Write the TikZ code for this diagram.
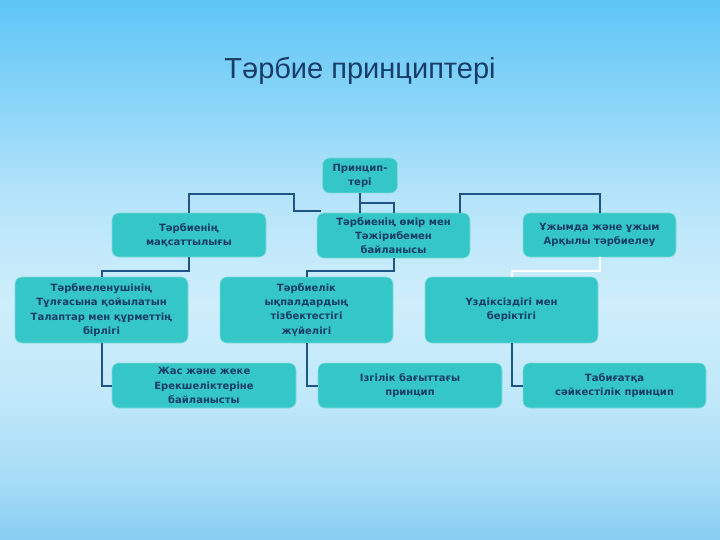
\documentclass[tikz,border=0pt]{standalone}
\usepackage{fontspec}
\setmainfont{DejaVu Sans}
\newfontfamily\titlefont{Liberation Sans}
\newfontfamily\boxfont{DejaVu Sans}
\usetikzlibrary{calc}
\definecolor{bgA}{HTML}{5EC5F5}
\definecolor{bgB}{HTML}{8AD5F8}
\definecolor{bgC}{HTML}{B6E4FA}
\definecolor{bgD}{HTML}{CFEEFB}
\definecolor{bgE}{HTML}{C0E8FA}
\definecolor{bgF}{HTML}{A6DCF6}
\definecolor{bgG}{HTML}{88CEF2}
\pgfdeclareverticalshading{slidebg}{100bp}{color(0bp)=(bgG); color(25bp)=(bgG); color(30.5bp)=(bgF); color(38bp)=(bgE); color(47bp)=(bgD); color(56.5bp)=(bgC); color(65.5bp)=(bgB); color(75bp)=(bgA); color(100bp)=(bgA)}
\definecolor{boxfill}{HTML}{35C6C8}
\definecolor{boxline}{HTML}{80DCDC}
\definecolor{txt}{HTML}{173D66}
\definecolor{conn}{HTML}{1E5585}
\tikzset{
  pbox/.style={draw=boxline, line width=0.6pt, fill=boxfill, rounded corners=7pt,
    align=center, text=txt, inner sep=1pt,
    font=\boxfont\bfseries\fontsize{10}{14.2}\selectfont},
  lnk/.style={draw=conn, line width=2pt},
  wlnk/.style={draw=white, line width=2pt},
}
\begin{document}
\begin{tikzpicture}[x=1pt,y=-1pt]
\useasboundingbox (0,0) rectangle (720,540);
\begin{scope}[y=1pt]
\shade[shading=slidebg] (0,-540) rectangle (720,0);
\end{scope}

\node[anchor=base, text=txt, font=\titlefont\fontsize{29}{32}\selectfont] (title) at (360,79) {Тәрбие принциптері};

\node[pbox, minimum width=75pt, minimum height=35pt] (root) at (360,175.5) {Принцип-\\тері};

\node[pbox, minimum width=154pt, minimum height=44pt] (L2a) at (189,235) {Тәрбиенің\\мақсаттылығы};
\node[pbox, minimum width=153pt, minimum height=45pt] (L2b) at (393.5,235.5) {Тәрбиенің өмір мен\\Тәжірибемен\\байланысы};
\node[pbox, minimum width=153pt, minimum height=44pt] (L2c) at (599.5,235) {Ұжымда және ұжым\\Арқылы тәрбиелеу};

\node[pbox, minimum width=173pt, minimum height=66pt] (L3a) at (101.5,310) {Тәрбиеленушінің\\Тұлғасына қойылатын\\Талаптар мен құрметтің\\бірлігі};
\node[pbox, minimum width=173pt, minimum height=66pt] (L3b) at (306.5,310) {Тәрбиелік\\ықпалдардың\\тізбектестігі\\жүйелігі};
\node[pbox, minimum width=173pt, minimum height=66pt] (L3c) at (511.5,310) {Үздіксіздігі мен\\беріктігі};

\node[pbox, minimum width=184pt, minimum height=45pt] (L4a) at (204,385.5) {Жас және жеке\\Ерекшеліктеріне\\байланысты};
\node[pbox, minimum width=184pt, minimum height=45pt] (L4b) at (410,385.5) {Ізгілік бағыттағы\\принцип};
\node[pbox, minimum width=183pt, minimum height=45pt] (L4c) at (614.5,385.5) {Табиғатқа\\сәйкестілік принцип};

% root to middle
\draw[lnk] (root.south) -- (root.south |- L2b.north);
\draw[lnk] ($(root.south)+(0,10)$) -| (L2b.north);
% left bracket
\coordinate (k1) at (294,194);
\coordinate (k2) at (321,211.5);
\draw[lnk] (L2a.north) |- (k1) |- (k2);
% right bracket
\coordinate (k3) at (460,213);
\draw[lnk] (k3) -- ++(0,-19) -| (L2c.north);

% level 2 to level 3
\draw[lnk] (L2a.south) -- ++(0,13.5) -| (L3a.north);
\draw[lnk] (L2b.south) -- ++(0,12.5) -| (L3b.north);
\draw[wlnk] (L2c.south) -- ++(0,13.5) -| (L3c.north);

% level 3 to level 4
\draw[lnk] (L3a.south) |- (L4a.west);
\draw[lnk] (L3b.south) |- (L4b.west);
\draw[lnk] (L3c.south) |- (L4c.west);
\end{tikzpicture}
\end{document}
